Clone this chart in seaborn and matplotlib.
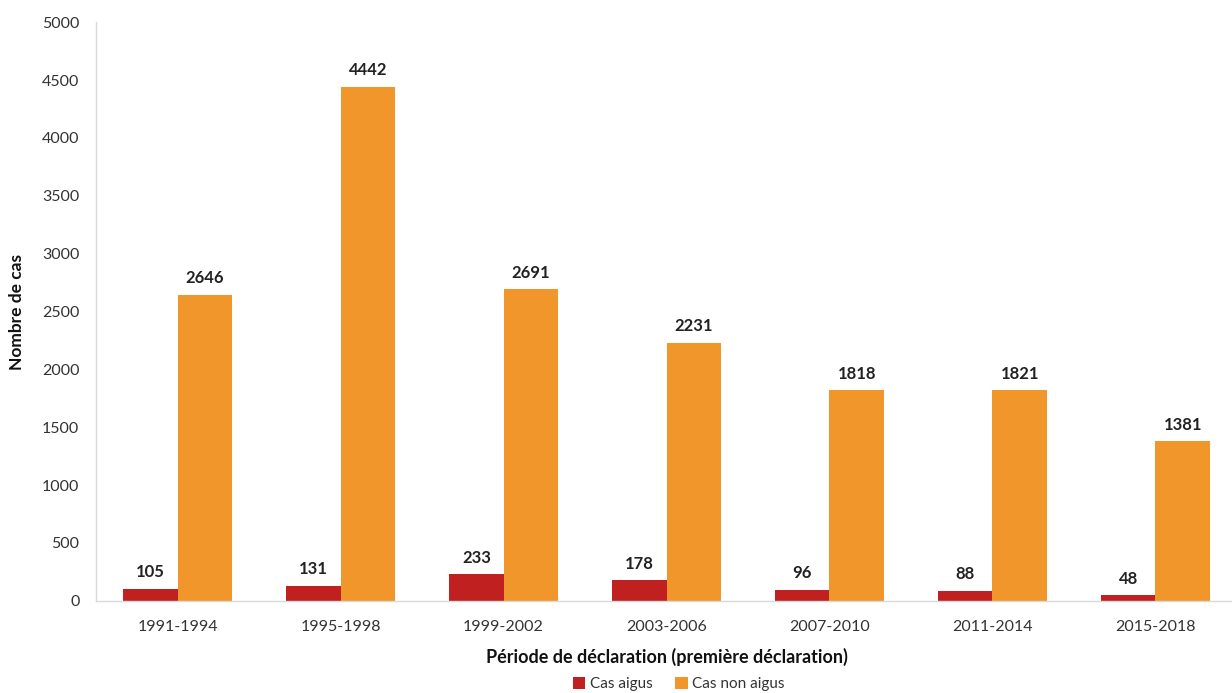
import matplotlib
matplotlib.use("Agg")
import matplotlib.pyplot as plt
import seaborn as sns
import pandas as pd

periods = ["1991-1994", "1995-1998", "1999-2002", "2003-2006",
           "2007-2010", "2011-2014", "2015-2018"]
aigus = [105, 131, 233, 178, 96, 88, 48]
non_aigus = [2646, 4442, 2691, 2231, 1818, 1821, 1381]
series = ["Cas aigus", "Cas non aigus"]
colors = ["#C0201F", "#F0962A"]

df = pd.DataFrame({
    "Période": periods * 2,
    "Cas": aigus + non_aigus,
    "Type": [series[0]] * len(periods) + [series[1]] * len(periods),
})

sns.set_theme(style="white")
plt.rcParams["font.family"] = ["Lato", "DejaVu Sans"]

fig = plt.figure(figsize=(12.32, 6.93), dpi=100)
ax = fig.add_axes([0.078, 0.133, 0.926, 0.835])

sns.barplot(data=df, x="Période", y="Cas", hue="Type", palette=colors,
            width=0.667, saturation=1, linewidth=0, ax=ax, legend=True)

for cont in ax.containers:
    ax.bar_label(cont, labels=[f"{int(v)}" for v in cont.datavalues],
                 padding=6, fontsize=12, fontweight="bold", color="#222222")

ax.set_ylim(0, 5000)
ax.set_xlim(-0.5, len(periods) - 0.5)
ax.set_yticks(range(0, 5001, 500))
ax.tick_params(axis="y", length=4, color="#d0d0d0", labelsize=11.5, labelcolor="#333333", pad=8)
ax.tick_params(axis="x", length=0, labelsize=11.5, labelcolor="#333333", pad=14)

for s in ["top", "right"]:
    ax.spines[s].set_visible(False)
for s in ["left", "bottom"]:
    ax.spines[s].set_color("#d9d9d9")
    ax.spines[s].set_linewidth(1)

ax.set_ylabel("Nombre de cas", fontsize=12.5, fontweight="bold", color="#111111", labelpad=12)
ax.set_xlabel("Période de déclaration (première déclaration)", fontsize=13,
              fontweight="bold", color="#111111", labelpad=10)

handles, labels = ax.get_legend_handles_labels()
ax.get_legend().remove()
fig.legend(handles, labels, loc="center", bbox_to_anchor=(0.551, 0.013),
           bbox_transform=fig.transFigure, ncol=2, frameon=False,
           fontsize=11, handlelength=0.8, handleheight=0.8, handletextpad=0.3,
           columnspacing=1.5, labelcolor="#333333")

fig.savefig("out.png", dpi=100)
